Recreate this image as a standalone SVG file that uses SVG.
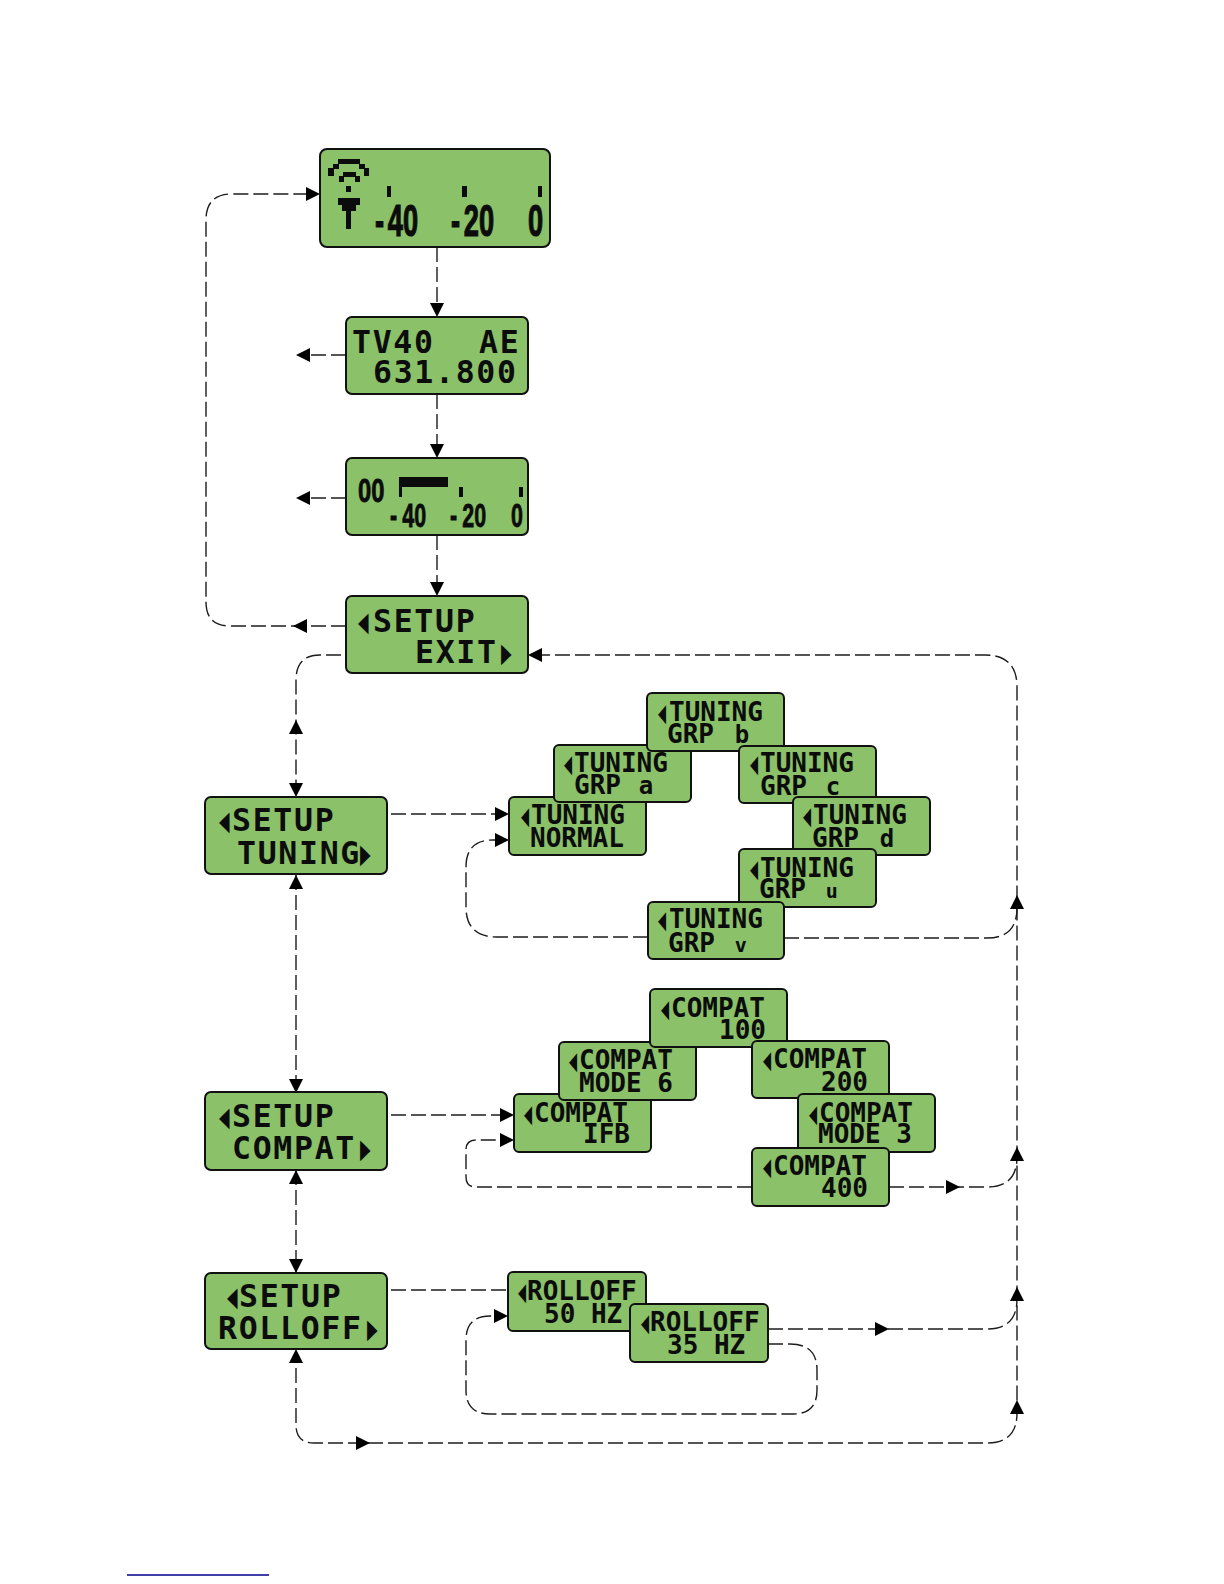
<svg xmlns="http://www.w3.org/2000/svg" width="1224" height="1584" viewBox="0 0 1224 1584">
<style>
.lcd{fill:#8bc168;stroke:#111;stroke-width:2}
text{font-family:"DejaVu Sans Mono","Liberation Mono",monospace;font-weight:700;fill:#0c0c0c}
.b{font-size:31.5px;letter-spacing:1.7px}
.s{font-size:26px}
.tb{font-size:35px}
.ts{font-size:32px}
.n{font-size:33px;font-family:"Liberation Sans",sans-serif;stroke:#0c0c0c;stroke-width:.8}
.m{font-size:44px;font-family:"Liberation Sans",sans-serif;stroke:#0c0c0c;stroke-width:1.2}
.lo{font-size:20px}
.lt{font-size:24px}
.c{fill:none;stroke:#1c1c1c;stroke-width:1.4;stroke-dasharray:15 5}
.a{fill:none;stroke:none;marker-end:url(#ah)}
.px{fill:#0c0c0c}
</style>
<defs>
<marker id="ah" markerUnits="userSpaceOnUse" markerWidth="14" markerHeight="14" refX="14" refY="7" orient="auto"><path d="M0 0L14 7L0 14Z" fill="#000"/></marker>
</defs>
<rect width="1224" height="1584" fill="#fff"/>
<g id="connectors">
<path class="c" d="M346 626H230Q206 626 206 602V220Q206 194 232 194H312"/>
<path class="c" d="M437 247V310"/>
<path class="c" d="M437 394V450"/>
<path class="c" d="M437 535V590"/>
<path class="c" d="M346 355H305"/>
<path class="c" d="M346 498H305"/>
<path class="c" d="M341 655H320Q296 655 296 680V797"/>
<path class="c" d="M296 875V1093"/>
<path class="c" d="M296 1170V1273"/>
<path class="c" d="M535 655H985Q1017 655 1017 687V1413Q1017 1443 987 1443H314Q296 1443 296 1425V1355"/>
<path class="c" d="M784 938H987Q1017 938 1017 908"/>
<path class="c" d="M889 1187H987Q1017 1187 1017 1157"/>
<path class="c" d="M768 1329H987Q1017 1329 1017 1299"/>
<path class="c" d="M391 814H500"/>
<path class="c" d="M391 1115H500"/>
<path class="c" d="M391 1290H508"/>
<path class="c" d="M648 937H497Q466 937 466 907V867Q466 840 493 840H502"/>
<path class="c" d="M752 1187H476Q466 1187 466 1177V1150Q466 1140 476 1140H507"/>
<path class="c" d="M768 1344H790Q817 1344 817 1370V1390Q817 1414 793 1414H490Q466 1414 466 1390V1340Q466 1316 490 1316H502"/>
<path class="a" d="M306 194H320"/>
<path class="a" d="M437 300V317"/>
<path class="a" d="M437 441V458"/>
<path class="a" d="M437 579V596"/>
<path class="a" d="M310 355H296"/>
<path class="a" d="M310 498H296"/>
<path class="a" d="M307 626H293"/>
<path class="a" d="M542 655H528"/>
<path class="a" d="M296 785V797"/>
<path class="a" d="M296 735V720"/>
<path class="a" d="M296 885V875"/>
<path class="a" d="M296 1080V1093"/>
<path class="a" d="M296 1180V1170"/>
<path class="a" d="M296 1260V1273"/>
<path class="a" d="M296 1360V1349"/>
<path class="a" d="M356 1443H370"/>
<path class="a" d="M1017 908V895"/>
<path class="a" d="M1017 1160V1147"/>
<path class="a" d="M1017 1300V1287"/>
<path class="a" d="M1017 1413V1400"/>
<path class="a" d="M946 1187H960"/>
<path class="a" d="M875 1329H889"/>
<path class="a" d="M495 814H509"/>
<path class="a" d="M495 840H509"/>
<path class="a" d="M500 1115H514"/>
<path class="a" d="M500 1140H514"/>
<path class="a" d="M494 1316H508"/>
</g>
<g id="node-meter">
<rect class="lcd" x="320" y="149" width="230" height="98" rx="7"/>
<path class="px" d="M338 159h22v5h-22zM333 164h6v5h-6zM359 164h6v5h-6zM328 168h6v8h-6zM364 168h5v8h-5zM343 172h13v5h-13zM339 176h5v6h-5zM355 176h5v6h-5zM346 186h5v6h-5zM338 198h22v7h-22zM342 205h14v6h-14zM346 211h5v18h-5zM387 186h4v11h-4zM462 186h5v11h-5zM538 186h4v11h-4z"/>
<text class="m" transform="translate(375,236) scale(.62,1)">-<tspan dx="6">40</tspan></text>
<text class="m" transform="translate(451,236) scale(.62,1)">-<tspan dx="6">20</tspan></text>
<text class="m" transform="translate(528,236) scale(.62,1)">0</text>
</g>
<g id="node-freq">
<rect class="lcd" x="346" y="317" width="182" height="77" rx="6"/>
<text class="b" x="352" y="353">TV40</text>
<text class="b" x="479" y="353">AE</text>
<text class="b" x="373" y="383">631.800</text>
</g>
<g id="node-level">
<rect class="lcd" x="346" y="458" width="182" height="77" rx="6"/>
<path class="px" d="M399 477h49v10h-49zM399 487h3v10h-3zM459 487h4v10h-4zM519 487h4v10h-4z"/>
<text class="n" transform="translate(358,502) scale(.72,1)">00</text>
<text class="n" transform="translate(390,527) scale(.65,1)">-<tspan dx="8">40</tspan></text>
<text class="n" transform="translate(450,527) scale(.65,1)">-<tspan dx="8">20</tspan></text>
<text class="n" transform="translate(511,527) scale(.65,1)">0</text>
</g>
<g id="node-setup-exit">
<rect class="lcd" x="346" y="596" width="182" height="77" rx="6"/>
<text class="tb" transform="translate(358,633) scale(.5,1)">◀</text>
<text class="b" x="373" y="632">SETUP</text>
<text class="b" x="415" y="663">EXIT</text>
<text class="tb" transform="translate(501,664) scale(.5,1)">▶</text>
</g>
<g id="node-setup-tuning">
<rect class="lcd" x="205" y="797" width="182" height="77" rx="6"/>
<text class="tb" transform="translate(219,832) scale(.5,1)">◀</text>
<text class="b" x="232" y="831">SETUP</text>
<text class="b" x="237" y="864">TUNING</text>
<text class="tb" transform="translate(360,865) scale(.5,1)">▶</text>
</g>
<g id="node-setup-compat">
<rect class="lcd" x="205" y="1092" width="182" height="78" rx="6"/>
<text class="tb" transform="translate(219,1128) scale(.5,1)">◀</text>
<text class="b" x="232" y="1127">SETUP</text>
<text class="b" x="232" y="1159">COMPAT</text>
<text class="tb" transform="translate(360,1160) scale(.5,1)">▶</text>
</g>
<g id="node-setup-rolloff">
<rect class="lcd" x="205" y="1273" width="182" height="76" rx="6"/>
<text class="tb" transform="translate(227,1308) scale(.5,1)">◀</text>
<text class="b" x="239" y="1307">SETUP</text>
<text class="b" x="218" y="1339">ROLLOFF</text>
<text class="tb" transform="translate(367,1340) scale(.5,1)">▶</text>
</g>
<g id="tuning-normal">
<rect class="lcd" x="509" y="797" width="137" height="58" rx="5"/>
<text class="ts" transform="translate(521,826) scale(.42,1)">◀</text>
<text class="s" x="531" y="824">TUNING</text>
<text class="s" x="530" y="847">NORMAL</text>
</g>
<g id="tuning-a">
<rect class="lcd" x="554" y="745" width="137" height="57" rx="5"/>
<text class="ts" transform="translate(564,774) scale(.42,1)">◀</text>
<text class="s" x="574" y="772">TUNING</text>
<text class="s" x="574" y="794">GRP <tspan class="lt" dx="2">a</tspan></text>
</g>
<g id="tuning-b">
<rect class="lcd" x="647" y="693" width="137" height="58" rx="5"/>
<text class="ts" transform="translate(658,723) scale(.42,1)">◀</text>
<text class="s" x="669" y="721">TUNING</text>
<text class="s" x="667" y="743">GRP <tspan class="lt" dx="5">b</tspan></text>
</g>
<g id="tuning-c">
<rect class="lcd" x="739" y="746" width="137" height="57" rx="5"/>
<text class="ts" transform="translate(750,774) scale(.42,1)">◀</text>
<text class="s" x="760" y="772">TUNING</text>
<text class="s" x="760" y="795">GRP <tspan class="lt" dx="3">c</tspan></text>
</g>
<g id="tuning-d">
<rect class="lcd" x="793" y="797" width="137" height="58" rx="5"/>
<text class="ts" transform="translate(803,826) scale(.42,1)">◀</text>
<text class="s" x="813" y="824">TUNING</text>
<text class="s" x="812" y="847">GRP <tspan class="lt" dx="5">d</tspan></text>
</g>
<g id="tuning-u">
<rect class="lcd" x="739" y="849" width="137" height="58" rx="5"/>
<text class="ts" transform="translate(750,879) scale(.42,1)">◀</text>
<text class="s" x="760" y="877">TUNING</text>
<text class="s" x="759" y="898">GRP <tspan class="lo" dx="4">u</tspan></text>
</g>
<g id="tuning-v">
<rect class="lcd" x="648" y="902" width="136" height="57" rx="5"/>
<text class="ts" transform="translate(658,930) scale(.42,1)">◀</text>
<text class="s" x="669" y="928">TUNING</text>
<text class="s" x="668" y="952">GRP <tspan class="lo" dx="4">v</tspan></text>
</g>
<g id="compat-ifb">
<rect class="lcd" x="514" y="1094" width="137" height="58" rx="5"/>
<text class="ts" transform="translate(524,1124) scale(.42,1)">◀</text>
<text class="s" x="534" y="1122">COMPAT</text>
<text class="s" x="583" y="1143">IFB</text>
</g>
<g id="compat-mode6">
<rect class="lcd" x="559" y="1042" width="137" height="58" rx="5"/>
<text class="ts" transform="translate(569,1071) scale(.42,1)">◀</text>
<text class="s" x="579" y="1069">COMPAT</text>
<text class="s" x="579" y="1092">MODE 6</text>
</g>
<g id="compat-100">
<rect class="lcd" x="650" y="989" width="137" height="58" rx="5"/>
<text class="ts" transform="translate(661,1019) scale(.42,1)">◀</text>
<text class="s" x="671" y="1017">COMPAT</text>
<text class="s" x="719" y="1039">100</text>
</g>
<g id="compat-200">
<rect class="lcd" x="752" y="1041" width="137" height="57" rx="5"/>
<text class="ts" transform="translate(763,1070) scale(.42,1)">◀</text>
<text class="s" x="773" y="1068">COMPAT</text>
<text class="s" x="821" y="1091">200</text>
</g>
<g id="compat-mode3">
<rect class="lcd" x="798" y="1094" width="137" height="58" rx="5"/>
<text class="ts" transform="translate(809,1124) scale(.42,1)">◀</text>
<text class="s" x="819" y="1122">COMPAT</text>
<text class="s" x="818" y="1143">MODE 3</text>
</g>
<g id="compat-400">
<rect class="lcd" x="752" y="1148" width="137" height="58" rx="5"/>
<text class="ts" transform="translate(763,1177) scale(.42,1)">◀</text>
<text class="s" x="773" y="1175">COMPAT</text>
<text class="s" x="821" y="1197">400</text>
</g>
<g id="rolloff-50">
<rect class="lcd" x="508" y="1272" width="138" height="59" rx="5"/>
<text class="ts" transform="translate(518,1302) scale(.42,1)">◀</text>
<text class="s" x="527" y="1300">ROLLOFF</text>
<text class="s" x="544" y="1323">50 HZ</text>
</g>
<g id="rolloff-35">
<rect class="lcd" x="630" y="1304" width="138" height="58" rx="5"/>
<text class="ts" transform="translate(641,1333) scale(.42,1)">◀</text>
<text class="s" x="650" y="1331">ROLLOFF</text>
<text class="s" x="667" y="1354">35 HZ</text>
</g>
<path d="M127 1575H269" stroke="#00008b" stroke-width="1.3" fill="none"/>
</svg>
